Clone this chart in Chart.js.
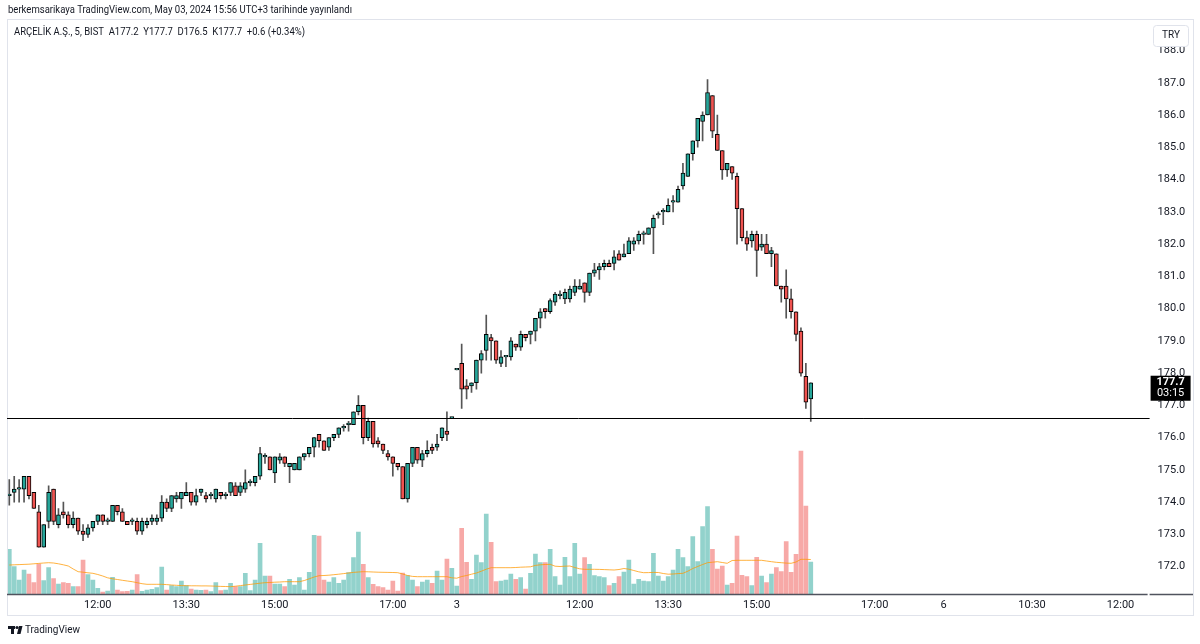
<!DOCTYPE html>
<html>
<head>
<meta charset="utf-8">
<script src="https://cdn.jsdelivr.net/npm/chart.js@4.4.1/dist/chart.umd.min.js"></script>
<style>
html, body { margin: 0; padding: 0; background: #fff; }
canvas { display: block; }
</style>
</head>
<body>
<canvas id="chart" width="1200" height="644"></canvas>
<script>
// ARCLK 5 dk mumlar - 2 ve 3 Mayis 2024
const opens = [
  174.2,174.3,174.4,174.4,174.8,174.3,173.7,172.6,173.4,174.4,
  173.3,173.7,173.6,173.3,173.5,173.1,173.0,173.2,173.4,173.6,
  173.4,173.4,173.9,173.7,173.4,173.4,173.4,173.1,173.3,173.4,
  173.4,173.5,174.0,173.8,174.1,174.1,174.2,174.3,174.0,174.3,
  174.2,174.2,174.1,174.3,174.2,174.3,174.5,174.3,174.4,174.6,
  174.6,174.8,175.4,175.4,174.9,175.3,175.4,175.1,175.0,175.0,
  175.4,175.5,175.7,176.1,175.9,175.7,176.0,176.1,176.3,176.4,
  176.4,176.8,177.0,176.0,176.5,175.9,175.8,175.5,175.4,175.2,
  175.1,174.1,175.2,175.7,175.3,175.5,175.7,175.7,176.0,176.2,
  176.6,178.1,178.3,177.6,177.6,177.7,178.4,178.7,179.1,179.0,
  178.3,178.5,178.5,178.9,178.8,179.2,179.2,179.3,179.7,180.0,
  179.9,180.2,180.4,180.3,180.3,180.5,180.6,180.8,180.5,181.1,
  181.2,181.3,181.4,181.4,181.7,181.6,181.7,182.0,182.1,182.3,
  182.3,182.5,182.9,183.0,183.0,183.3,183.3,183.8,184.1,184.8,
  185.2,185.8,186.0,186.6,185.4,184.9,184.3,184.4,184.1,183.1,
  182.2,182.1,182.3,181.9,182.0,181.7,181.7,180.7,180.7,180.3,
  179.9,179.3,177.9,177.2
];
const highs = [
  174.7,174.8,174.7,174.8,174.8,174.3,173.9,173.3,174.5,174.4,
  173.8,174.0,173.7,173.7,173.5,173.3,173.3,173.4,173.6,173.6,
  173.5,173.9,173.9,173.8,173.4,173.5,173.5,173.5,173.5,173.6,
  173.6,174.2,174.1,174.2,174.3,174.3,174.6,174.3,174.4,174.4,
  174.3,174.3,174.4,174.3,174.3,174.6,174.6,174.6,175.0,174.7,
  174.8,175.7,175.5,175.4,175.4,175.5,175.4,175.2,175.2,175.4,
  175.5,175.7,176.0,176.1,175.9,176.0,176.1,176.3,176.4,176.5,
  176.8,177.3,177.0,176.6,176.5,176.0,175.8,175.6,175.4,175.2,
  175.1,175.2,175.7,175.7,175.6,175.9,175.8,176.1,176.3,176.8,
  176.6,178.1,178.9,177.8,177.7,178.4,178.7,179.8,179.2,179.0,
  178.7,178.5,179.1,178.9,179.3,179.2,179.3,179.7,180.0,180.0,
  180.3,180.5,180.55,180.6,180.7,180.9,180.9,180.8,181.1,181.4,
  181.4,181.5,181.5,181.8,181.8,182.0,182.2,182.2,182.4,182.4,
  182.5,182.9,183.0,183.1,183.4,183.5,183.8,184.5,184.8,185.2,
  185.9,186.1,187.1,186.6,186.0,184.9,184.5,184.4,184.2,183.1,
  182.4,182.4,182.4,182.3,182.3,181.9,181.7,180.7,181.2,180.6,
  179.9,179.4,178.3,177.7
];
const lows = [
  173.9,174.0,174.0,174.0,174.1,173.8,172.6,172.6,173.2,173.3,
  173.2,173.5,173.2,173.2,173.0,172.8,172.9,173.1,173.3,173.3,
  173.3,173.4,173.6,173.4,173.3,173.3,173.0,173.0,173.2,173.3,
  173.3,173.4,173.7,173.7,174.0,173.8,174.2,173.9,173.9,174.2,
  174.0,174.1,174.0,174.1,174.1,174.2,174.2,174.2,174.3,174.5,
  174.5,174.7,175.2,175.0,174.6,175.2,175.1,174.6,175.0,175.0,
  175.3,175.4,175.4,175.7,175.6,175.6,175.9,176.0,176.2,176.2,
  176.4,176.7,175.8,175.9,175.7,175.7,175.5,175.3,174.8,175.0,
  174.1,174.0,175.1,175.2,175.1,175.4,175.5,175.6,175.9,175.9,
  176.6,178.1,176.9,177.2,177.4,177.5,178.0,178.4,178.4,178.3,
  178.2,178.2,178.4,178.7,178.7,179.0,178.9,179.0,179.4,179.7,
  179.85,180.1,180.3,180.15,180.2,180.4,180.6,180.2,180.4,181.0,
  180.9,181.2,181.3,181.2,181.5,181.6,181.7,181.8,182.0,182.0,
  182.3,181.7,182.8,182.6,183.0,183.0,183.3,183.7,184.1,184.6,
  185.0,185.2,186.0,185.3,184.9,184.0,184.1,184.0,182.0,182.1,
  181.8,181.9,181.0,181.8,181.7,181.3,180.7,180.2,179.7,179.7,
  179.0,177.9,176.9,176.5
];
const closes = [
  174.2,174.4,174.4,174.8,174.2,173.8,172.6,173.3,174.3,173.4,
  173.6,173.6,173.3,173.5,173.1,173.0,173.2,173.4,173.6,173.4,
  173.4,173.9,173.7,173.4,173.3,173.4,173.1,173.4,173.4,173.5,
  173.5,174.0,173.8,174.2,174.2,174.3,174.3,174.0,174.2,174.4,
  174.1,174.2,174.4,174.2,174.2,174.6,174.2,174.5,174.6,174.6,
  174.8,175.5,175.4,175.0,175.4,175.4,175.2,175.2,175.2,175.4,
  175.5,175.7,176.0,175.9,175.6,176.0,176.1,176.3,176.3,176.4,
  176.8,177.0,176.0,176.5,175.8,175.8,175.6,175.4,175.2,175.1,
  174.1,175.2,175.7,175.3,175.5,175.6,175.6,175.8,176.3,176.1,
  176.6,178.1,177.5,177.5,177.7,178.4,178.6,179.2,179.0,178.4,
  178.5,178.5,179.0,178.8,179.2,179.1,179.3,179.7,179.9,179.9,
  180.25,180.45,180.45,180.5,180.6,180.7,180.7,180.5,181.1,181.2,
  181.3,181.4,181.3,181.6,181.5,181.7,182.1,182.1,182.3,182.3,
  182.5,182.8,182.9,183.0,183.2,183.3,183.7,184.2,184.8,185.2,
  185.9,186.0,186.7,185.5,184.9,184.3,184.5,184.2,183.1,182.2,
  182.0,182.3,181.8,182.0,181.7,181.8,180.7,180.6,180.3,179.9,
  179.2,178.0,177.1,177.7
];
// hacim (bin adet)
const volumes = [
  44.7,27.3,14,24,20,11.3,30,13.3,26.3,15.3,
  10,11.3,10.7,7.3,7.3,34,19.3,14,5.7,2,
  3,16.7,4,2.3,2.7,4,19.3,2.7,4,4.7,
  6.3,27,4,8.3,7.3,13,8.3,5,4,3.7,
  4,2.3,11.3,3.3,4,10.7,7.3,7.3,20.7,3.3,
  14,50.7,18,18,10,10,7.3,14.7,9,16.3,
  4,21.7,58.7,58,14,12,16.3,10.7,14,21.3,
  36.3,62,29.7,16.3,9.7,7.3,6.3,4,13,3,
  21,18.5,14,7.3,12,14,10.7,23,14,35,
  25.7,8,65.7,31.7,14.7,39,31.3,80,51.7,12.3,
  13,14,20,14.7,16.3,5,20.7,40,31.3,31.3,
  44.7,17.3,9,36.7,17.3,50.7,20,36.3,29.7,18.3,
  17.3,16.3,8.3,10.7,17.3,22,34,10,14.7,13,
  12.3,40.7,18,13,17.3,24,44.7,36.3,27.3,57.3,
  32.3,67.3,87.3,44.7,25,28,9,10.7,58,18.7,
  17.3,8.3,36.7,18,11.3,20,26.3,22.3,52.3,21.7,
  39.7,143,88,32
];
// hacim ortalamasi (turuncu cizgi)
const volumeMA = [
  29,29.2,29.4,29.6,29.8,30.2,30.6,31,31.3,31,
  30.2,29.2,28,25,22.3,21.8,21.2,20.7,19.5,18,
  16.2,15.2,14.5,13.7,13,12.3,11.3,10.3,9.7,9.7,
  9.7,9.7,9.4,9,8.7,8.4,8.3,8.2,8.2,8.1,
  8.1,8,7.8,7.6,7.5,7.3,7.8,8.4,9,9.6,
  10.2,10.8,11.3,11.5,11.8,12,12.3,12.3,12.3,12.3,
  13.5,15.2,17,18.3,18.5,18.8,19.3,19.8,20.4,21,
  21.6,22,22.3,22.2,22,21.8,21.7,21.6,21.5,21.3,
  20,18.5,17.6,17.3,17.3,17.3,17.3,17.3,17.3,17.3,
  16.2,15.8,17.5,18.5,19.8,21,22.8,24.8,26.3,26.3,
  26.3,26.3,26.3,26.5,26.8,27,27.2,28.6,29.2,29.5,
  29.7,27.8,27.5,27.8,28,26.5,25.2,24.7,24.7,24.7,
  24.6,24.4,24.2,24,24.5,25.5,24.8,23.5,22.2,21.3,
  21.4,21.6,21.5,20.5,19.8,20,20.4,20.7,22.8,25.5,
  27.5,29.5,31.3,31.8,32.3,31.5,30.7,33.5,33.7,33.7,
  33.7,33.7,33.7,33.7,33,32.3,31.7,31.3,30.9,30.7,
  32,34.7,34.7,34.5
];
const prevClose = 176.6;   // yatay cizgi
const remaining = '03:15';

const slotCount = 232;  // gorunen zaman dilimi (bos gelecek alan dahil)
const tickPos = [18, 36, 54, 78, 91, 116, 134, 152, 176, 190, 208, 226];
const tickText = ['12:00', '13:30', '15:00', '17:00', '3', '12:00', '13:30', '15:00', '17:00', '6', '10:30', '12:00'];
const priceTicks = [172, 173, 174, 175, 176, 177, 178, 179, 180, 181, 182, 183, 184, 185, 186, 187, 188];

const upColor = '#26a69a';
const downColor = '#ef5350';
const upVol = 'rgba(38,166,154,0.5)';
const downVol = 'rgba(239,83,80,0.5)';
const textColor = '#131722';
const font = 'Roboto, "Noto Sans", sans-serif';

const slots = Array.from({ length: slotCount }, (_, i) => String(i));
const isUp = closes.map((c, i) => c >= opens[i]);
const last = closes.length - 1;

// metni verilen genislige sigdirarak yaz
function fitText(c, txt, x, y, width) {
    const w = c.measureText(txt).width;
    c.save();
    c.translate(x, y);
    c.scale(width / w, 1);
    c.fillText(txt, 0, 0);
    c.restore();
}

const overlay = {
    id: 'overlay',
    beforeDraw(chart) {
        const c = chart.ctx;
        c.save();
        c.fillStyle = '#fff';
        c.fillRect(0, 0, chart.width, chart.height);
        c.restore();
    },
    afterDraw(chart) {
        const c = chart.ctx;
        const y = chart.scales.y;
        const area = chart.chartArea;
        c.save();

        // cerceve
        c.strokeStyle = '#e0e3eb';
        c.lineWidth = 1;
        c.strokeRect(7.5, 19.5, 1186, 596);

        // zaman ekseni cizgisi
        c.strokeStyle = '#50535e';
        c.lineWidth = 1.5;
        c.beginPath();
        c.moveTo(7, area.bottom + 0.5);
        c.lineTo(area.right, area.bottom + 0.5);
        c.moveTo(area.right + 2, area.bottom + 0.5);
        c.lineTo(1193, area.bottom + 0.5);
        c.stroke();

        // onceki kapanis cizgisi
        const py = Math.round(y.getPixelForValue(prevClose)) + 0.5;
        c.strokeStyle = '#000';
        c.lineWidth = 1;
        c.beginPath();
        c.moveTo(7, py);
        c.lineTo(area.right + 2, py);
        c.stroke();

        // son fiyat etiketi
        const ly = y.getPixelForValue(closes[last]);
        c.fillStyle = '#000';
        c.fillRect(area.right + 3, ly - 7, 40, 25);
        c.fillStyle = '#fff';
        c.textAlign = 'center';
        c.textBaseline = 'middle';
        c.font = 'bold 11px ' + font;
        c.fillText(closes[last].toFixed(1), area.right + 23, ly);
        c.font = '11px ' + font;
        c.fillText(remaining, area.right + 23, ly + 11);

        // TRY rozeti
        c.fillStyle = '#fff';
        c.strokeStyle = '#e0e3eb';
        c.beginPath();
        c.roundRect(1153.5, 25.5, 35, 21, 3);
        c.fill();
        c.stroke();
        c.fillStyle = textColor;
        c.font = '10px ' + font;
        c.fillText('TRY', 1171, 35.5);

        // baslik ve lejant
        c.textAlign = 'left';
        c.font = '11px ' + font;
        c.fillStyle = textColor;
        fitText(c, 'berkemsarikaya TradingView.com, May 03, 2024 15:56 UTC+3 tarihinde yayınlandı', 8, 10, 344);
        const chg = closes[last] - closes[last - 1];
        const pct = chg / closes[last - 1] * 100;
        const legend = 'ARÇELİK A.Ş., 5, BIST  A' + opens[last].toFixed(1) + '  Y' + highs[last].toFixed(1) +
            '  D' + lows[last].toFixed(1) + '  K' + closes[last].toFixed(1) +
            '  +' + chg.toFixed(1) + ' (+' + pct.toFixed(2) + '%)';
        fitText(c, legend, 14, 32, 291);

        // TradingView logosu
        c.fillStyle = '#131722';
        c.fillRect(8, 626, 7, 3);
        c.fillRect(11, 626, 3, 8);
        c.beginPath();
        c.arc(17, 627.5, 1.6, 0, Math.PI * 2);
        c.fill();
        c.beginPath();
        c.moveTo(19, 626);
        c.lineTo(22.5, 626);
        c.lineTo(20.5, 634);
        c.lineTo(17, 634);
        c.closePath();
        c.fill();
        c.font = '11px ' + font;
        fitText(c, 'TradingView', 25, 630, 55);
        c.restore();
    }
};

const ctx = document.getElementById('chart').getContext('2d');

new Chart(ctx, {
    type: 'bar',
    data: {
        labels: slots,
        datasets: [
            {
                label: 'Gövde',
                data: opens.map((o, i) => [o, closes[i]]),
                backgroundColor: isUp.map(u => u ? upColor : downColor),
                borderColor: '#000',
                borderWidth: 1,
                borderSkipped: false,
                barThickness: 4,
                minBarLength: 1.5,
                grouped: false,
                yAxisID: 'y',
                order: 0
            },
            {
                label: 'Fitil',
                data: lows.map((l, i) => [l, highs[i]]),
                backgroundColor: '#555',
                borderWidth: 0,
                barThickness: 1,
                grouped: false,
                yAxisID: 'y',
                order: 1
            },
            {
                type: 'line',
                label: 'Hacim MA',
                data: volumeMA,
                borderColor: 'rgba(255,152,0,0.75)',
                borderWidth: 1,
                pointRadius: 0,
                tension: 0,
                yAxisID: 'yVol',
                order: 2
            },
            {
                label: 'Hacim',
                data: volumes,
                backgroundColor: isUp.map(u => u ? upVol : downVol),
                borderWidth: 0,
                barThickness: 4,
                grouped: false,
                yAxisID: 'yVol',
                order: 3
            }
        ]
    },
    options: {
        responsive: false,
        animation: false,
        devicePixelRatio: 1,
        layout: { padding: { left: 6.84, top: 20, right: 0, bottom: 29 } },
        plugins: {
            legend: { display: false },
            tooltip: { enabled: false }
        },
        scales: {
            x: {
                grid: { display: false, drawTicks: false },
                border: { display: false },
                afterBuildTicks: s => { s.ticks = tickPos.map(v => ({ value: v })); },
                afterFit: s => { s.height = 21; },
                ticks: {
                    autoSkip: false,
                    maxRotation: 0,
                    padding: 5,
                    color: textColor,
                    font: { family: font, size: 11 },
                    callback: (v, i) => tickText[i]
                }
            },
            y: {
                position: 'right',
                min: 171.149,
                max: 188.947,
                grid: { display: false, drawTicks: false },
                border: { display: false },
                afterBuildTicks: s => { s.ticks = priceTicks.map(v => ({ value: v })); },
                afterFit: s => { s.width = 52.4; },
                ticks: {
                    padding: 10,
                    color: textColor,
                    font: { family: font, size: 11 },
                    callback: v => v.toFixed(1)
                }
            },
            yVol: {
                display: false,
                min: 0,
                max: 574
            }
        }
    },
    plugins: [overlay]
});
</script>
</body>
</html>
